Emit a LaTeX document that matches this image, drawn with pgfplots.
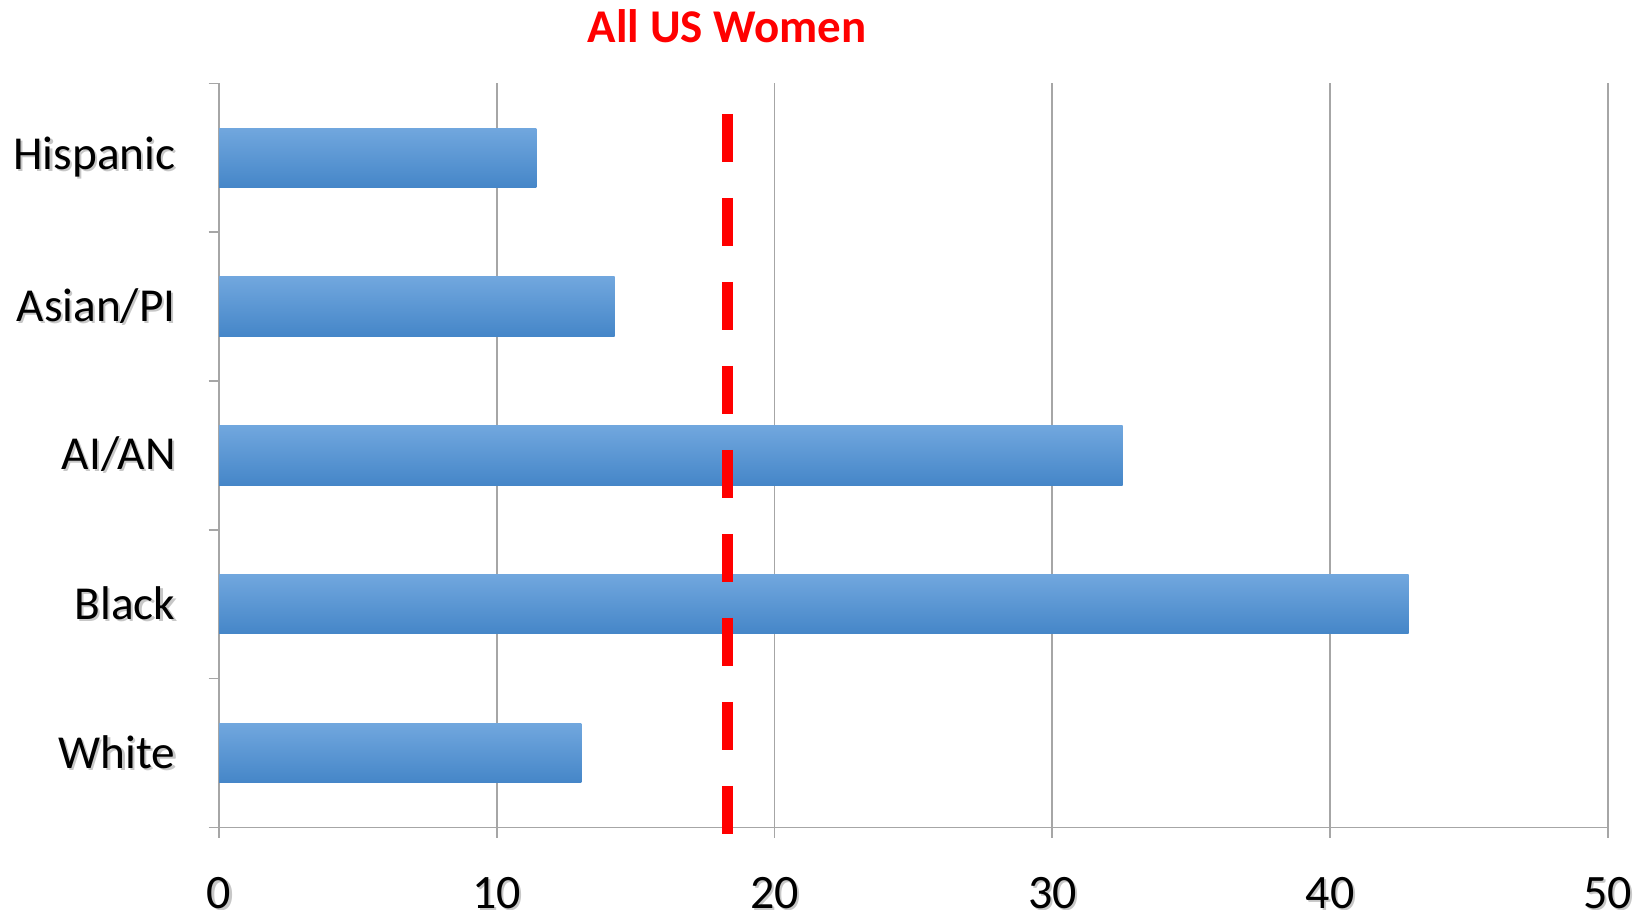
\documentclass[border=0pt]{standalone}
\usepackage{fontspec}
\setmainfont{Carlito}
\usepackage{pgfplots}
\pgfplotsset{compat=1.18}

\definecolor{barTop}{HTML}{71A7DE}
\definecolor{barMid}{HTML}{5B9BDA}
\definecolor{barBot}{HTML}{4586C8}
\definecolor{gridGray}{HTML}{A6A6A6}

% label text with a soft drop shadow
\newcommand\sh[1]{\makebox[0pt][l]{\color{black!22}\hspace{0.6pt}\raisebox{-0.6pt}{#1}}#1}

\pgfplotsset{
  ratebar/.style={xbar, bar width=0.4, bar shift=0pt, draw=none,
    top color=barTop, middle color=barMid, bottom color=barBot},
}

\begin{document}
\begin{tikzpicture}
% overall frame of the figure
\useasboundingbox (-63pt,-23.7pt) rectangle (407.4pt,237.9pt);
\begin{axis}[
  at={(0,0)}, anchor=south west,
  scale only axis, width=399.3pt, height=213.9pt,
  xmin=0, xmax=50, ymin=-0.5, ymax=4.5,
  axis lines=left, axis line style={gridGray, -, line width=0.5pt},
  xtick={0,10,...,50},
  xticklabel={\sh{\pgfmathprintnumber{\tick}}},
  ytick={0,1,2,3,4},
  yticklabels={\sh{White},\sh{Black},\sh{AI/AN},\sh{Asian/PI},\sh{Hispanic}},
  minor ytick={-0.5,0.5,...,4.5},
  tick align=outside,
  major tick length=3pt, minor tick length=3pt,
  major x tick style={gridGray, line width=0.5pt},
  major y tick style={draw=none},
  minor y tick style={gridGray, line width=0.5pt},
  xmajorgrids, grid style={gridGray, line width=0.5pt},
  yticklabel style={font=\fontsize{13.6}{16}\selectfont, xshift=-6pt},
  xticklabel style={font=\fontsize{13.8}{16}\selectfont, inner sep=0pt, yshift=-11.2pt},
  /pgf/number format/assume math mode=true,
  clip=false,
]
% rates by group, one bar each so every bar carries its own gradient
\addplot[ratebar] coordinates {(13.04,0)};
\addplot[ratebar] coordinates {(42.83,1)};
\addplot[ratebar] coordinates {(32.53,2)};
\addplot[ratebar] coordinates {(14.24,3)};
\addplot[ratebar] coordinates {(11.42,4)};
% reference line for all US women
\addplot[red, line width=3.36pt, dash pattern=on 13.8pt off 10.35pt, forget plot]
  coordinates {(18.3,4.295) (18.3,-0.544)};
\end{axis}
\node[font=\bfseries\fontsize{13.5}{16}\selectfont, text=red] at (146.1pt,230.4pt) {All US Women};
\end{tikzpicture}
\end{document}
